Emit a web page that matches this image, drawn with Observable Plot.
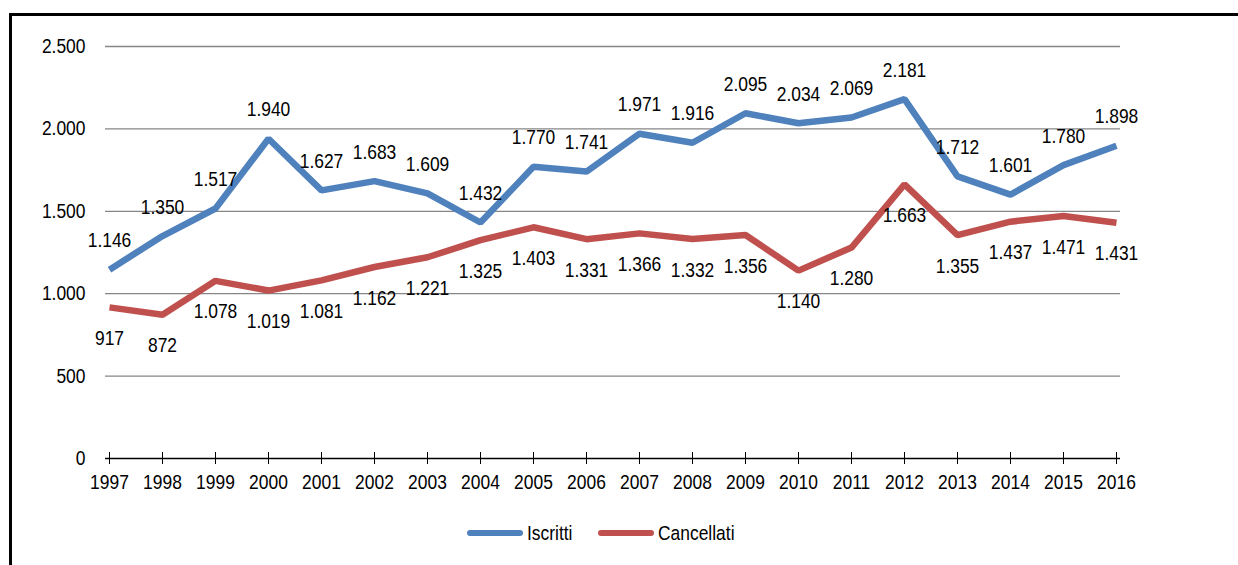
<!DOCTYPE html>
<html>
<head>
<meta charset="utf-8">
<script src="https://cdn.jsdelivr.net/npm/d3@7"></script>
<script src="https://cdn.jsdelivr.net/npm/@observablehq/plot@0.6"></script>
<style>
  html, body { margin: 0; padding: 0; background: #fff; }
  #wrap { position: relative; width: 1238px; height: 565px; overflow: hidden;
          font-family: "Liberation Sans", Arial, sans-serif; }
  #frameTop { position: absolute; left: 9px; top: 13px; width: 1229px; height: 3px; background: #000; }
  #frameLeft { position: absolute; left: 9px; top: 13px; width: 3px; height: 552px; background: #000; }
  #chart { position: absolute; left: 0; top: 0; }
  #legend { position: absolute; top: 521px; left: 0; width: 1238px; height: 24px; }
  .sw { position: absolute; top: 9px; height: 6px; width: 56px; border-radius: 3px; }
  .lt { position: absolute; top: 0; font-size: 20.5px; line-height: 24px; color: #000;
        transform: scaleX(0.85); transform-origin: left center; white-space: nowrap; }
</style>
</head>
<body>
<div id="wrap">
  <div id="chart"></div>
  <div id="frameTop"></div>
  <div id="frameLeft"></div>
  <div id="legend"></div>
</div>
<script>
const years = [1997,1998,1999,2000,2001,2002,2003,2004,2005,2006,2007,2008,2009,2010,2011,2012,2013,2014,2015,2016];
const iscritti = [1146,1350,1517,1940,1627,1683,1609,1432,1770,1741,1971,1916,2095,2034,2069,2181,1712,1601,1780,1898];
const cancellati = [917,872,1078,1019,1081,1162,1221,1325,1403,1331,1366,1332,1356,1140,1280,1663,1355,1437,1471,1431];
const yTicks = [0,500,1000,1500,2000,2500];
const seriesNames = ["Iscritti","Cancellati"];
const seriesColors = ["#4F81BD","#C0504D"];

const itLocale = d3.formatLocale({decimal: ",", thousands: ".", grouping: [3], currency: ["", " €"]});
const fmt = itLocale.format(",d");

const dataI = years.map((y, i) => ({year: y, value: iscritti[i]}));
const dataC = years.map((y, i) => ({year: y, value: cancellati[i]}));

const FONT = '"Liberation Sans", Arial, sans-serif';
const FS = 20.5;

const plot = Plot.plot({
  width: 1238,
  height: 565,
  marginLeft: 105,
  marginRight: 118,
  marginTop: 46,
  marginBottom: 107,
  style: {fontFamily: FONT, fontSize: FS + "px", color: "#000", background: "transparent"},
  x: {type: "point", domain: years, padding: 0},
  y: {domain: [0, 2500]},
  marks: [
    Plot.gridY(yTicks.filter(d => d > 0), {stroke: "#868686", strokeOpacity: 1, strokeWidth: 1.3}),
    Plot.axisY(yTicks, {tickSize: 0, tickPadding: 20, tickFormat: fmt, fontSize: FS, label: null}),
    Plot.ruleY([0], {stroke: "#000", strokeWidth: 1.3}),
    Plot.axisX(years, {tickSize: 12, dy: -6, tickPadding: 10, tickFormat: d => String(d), fontSize: FS, label: null, stroke: "#000"}),
    Plot.line(dataI, {x: "year", y: "value", stroke: seriesColors[0], strokeWidth: 6.5, strokeLinejoin: "miter", strokeLinecap: "butt"}),
    Plot.line(dataC, {x: "year", y: "value", stroke: seriesColors[1], strokeWidth: 6.5, strokeLinejoin: "miter", strokeLinecap: "butt"}),
    Plot.text(dataI, {x: "year", y: "value", text: d => fmt(d.value), dy: -29, fontSize: FS, fill: "#000"}),
    Plot.text(dataC, {x: "year", y: "value", text: d => fmt(d.value), dy: 31, fontSize: FS, fill: "#000"})
  ]
});

// condense all text horizontally (reference uses a narrow face)
const SX = 0.85;
plot.querySelectorAll("text").forEach(t => {
  const ax = parseFloat(t.getAttribute("x") || "0") || 0;
  const tr = t.getAttribute("transform") || "";
  t.setAttribute("transform", `${tr} translate(${ax},0) scale(${SX},1) translate(${-ax},0)`.trim());
});
document.getElementById("chart").appendChild(plot);

const legend = document.getElementById("legend");
const legendPos = [{sw: 467, tx: 527}, {sw: 598, tx: 658}];
seriesNames.forEach((name, i) => {
  const s = document.createElement("div");
  s.className = "sw";
  s.style.left = legendPos[i].sw + "px";
  s.style.background = seriesColors[i];
  legend.appendChild(s);
  const t = document.createElement("div");
  t.className = "lt";
  t.style.left = legendPos[i].tx + "px";
  t.textContent = name;
  legend.appendChild(t);
});
</script>
</body>
</html>
